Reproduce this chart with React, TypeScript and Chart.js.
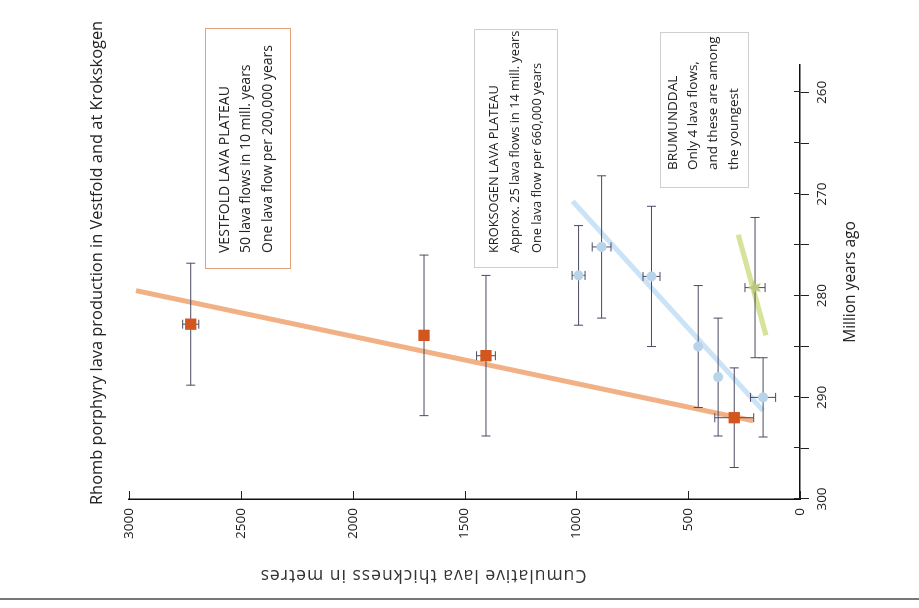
import React, { useEffect, useRef } from 'react';
import { Chart, registerables } from 'chart.js';

Chart.register(...registerables);

// ---------- data (age in million years ago, cumulative thickness in metres) ----------
const vestfoldAge = [282.8, 283.9, 285.9, 292.0];
const vestfoldThickness = [2724, 1681, 1404, 294];
const vestfoldAgeErr = [6.0, 7.9, 7.9, 4.9];
const vestfoldThickErr = [36, 0, 42, 87];

const krokskogenAge = [278.0, 275.2, 278.1, 285.0, 288.0, 290.0];
const krokskogenThickness = [990, 887, 664, 455, 366, 165];
const krokskogenAgeErr = [4.9, 7.0, 6.9, 6.0, 5.8, 3.9];
const krokskogenThickErr = [29, 42, 38, 0, 0, 56];

const brumunddalAge = [279.2];
const brumunddalThickness = [201];
const brumunddalAgeErr = [6.9];
const brumunddalThickErr = [45];

const vestfoldTrendAge = [279.5, 292.3];
const vestfoldTrendThickness = [2969, 210];
const krokskogenTrendAge = [270.7, 291.3];
const krokskogenTrendThickness = [1017, 165];
const brumunddalTrendAge = [274.0, 283.9];
const brumunddalTrendThickness = [276, 152];

const titleText = 'Rhomb porphyry lava production in Vestfold and at Krokskogen';
const xAxisTitle = 'Million years ago';
const yAxisTitle = 'Cumulative lava thickness in metres';
const vestfoldNote = ['VESTFOLD LAVA PLATEAU', '50 lava flows in 10 mill. years', 'One lava flow per 200,000 years'];
const krokskogenNote = ['KROKSOGEN LAVA PLATEAU', 'Approx. 25 lava flows in 14 mill. years', 'One lava flow per 660,000 years'];
const brumunddalNote = ['BRUMUNDDAL', 'Only 4 lava flows,', 'and these are among', 'the youngest'];

const FONT = "'Open Sans', 'Noto Sans', sans-serif";

const pts = (a: number[], b: number[]) => a.map((v, i) => ({ x: v, y: b[i] }));

const errorSets: Record<number, { age: number[]; thick: number[]; ageErr: number[]; thickErr: number[] }> = {
  0: { age: vestfoldAge, thick: vestfoldThickness, ageErr: vestfoldAgeErr, thickErr: vestfoldThickErr },
  1: { age: krokskogenAge, thick: krokskogenThickness, ageErr: krokskogenAgeErr, thickErr: krokskogenThickErr },
  2: { age: brumunddalAge, thick: brumunddalThickness, ageErr: brumunddalAgeErr, thickErr: brumunddalThickErr },
};

function makeStar(): HTMLCanvasElement {
  const c = document.createElement('canvas');
  c.width = 16;
  c.height = 16;
  const g = c.getContext('2d')!;
  g.fillStyle = '#bcc67c';
  g.beginPath();
  for (let i = 0; i < 10; i++) {
    const r = i % 2 === 0 ? 7.5 : 3.2;
    const a = -Math.PI / 2 + (i * Math.PI) / 5;
    const x = 8 + r * Math.cos(a);
    const y = 8 + r * Math.sin(a);
    if (i === 0) g.moveTo(x, y);
    else g.lineTo(x, y);
  }
  g.closePath();
  g.fill();
  return c;
}

const decor = {
  id: 'decor',
  beforeDatasetDraw(chart: any, args: any) {
    const eb = errorSets[args.index];
    if (!eb) return;
    const { ctx } = chart;
    const xs = chart.scales.x;
    const ys = chart.scales.y;
    ctx.save();
    ctx.strokeStyle = '#4a4a62';
    ctx.lineWidth = 1;
    const seg = (x1: number, y1: number, x2: number, y2: number) => {
      ctx.beginPath();
      ctx.moveTo(x1, y1);
      ctx.lineTo(x2, y2);
      ctx.stroke();
    };
    const cap = 4.5;
    eb.age.forEach((a, i) => {
      const px = xs.getPixelForValue(a);
      const py = ys.getPixelForValue(eb.thick[i]);
      const ae = eb.ageErr[i];
      if (ae) {
        const x1 = xs.getPixelForValue(a - ae);
        const x2 = xs.getPixelForValue(a + ae);
        seg(x1, py, x2, py);
        seg(x1, py - cap, x1, py + cap);
        seg(x2, py - cap, x2, py + cap);
      }
      const te = eb.thickErr[i];
      if (te) {
        const y1 = ys.getPixelForValue(eb.thick[i] - te);
        const y2 = ys.getPixelForValue(eb.thick[i] + te);
        seg(px, y1, px, y2);
        seg(px - cap, y1, px + cap, y1);
        seg(px - cap, y2, px + cap, y2);
      }
    });
    ctx.restore();
  },
  afterDraw(chart: any) {
    const { ctx, chartArea } = chart;
    const xs = chart.scales.x;
    const ys = chart.scales.y;
    ctx.save();
    // inner tick marks
    ctx.strokeStyle = '#222';
    ctx.lineWidth = 1;
    xs.ticks.forEach((t: any) => {
      const p = Math.round(xs.getPixelForValue(t.value)) + 0.5;
      ctx.beginPath();
      ctx.moveTo(p, chartArea.bottom);
      ctx.lineTo(p, chartArea.bottom - 6);
      ctx.stroke();
    });
    ys.ticks.forEach((t: any) => {
      const p = Math.round(ys.getPixelForValue(t.value)) + 0.5;
      ctx.beginPath();
      ctx.moveTo(chartArea.left, p);
      ctx.lineTo(chartArea.left + 8, p);
      ctx.stroke();
    });

    // page frame line
    ctx.strokeStyle = '#777';
    ctx.lineWidth = 2;
    ctx.beginPath();
    ctx.moveTo(9, 0);
    ctx.lineTo(9, 919);
    ctx.stroke();

    // title
    ctx.fillStyle = '#222';
    ctx.textBaseline = 'middle';
    ctx.textAlign = 'left';
    ctx.font = `16.4px ${FONT}`;
    ctx.fillText(titleText, 103, 97);

    // y axis title (rotated, reading bottom-to-top)
    ctx.save();
    ctx.translate(33, 423);
    ctx.rotate(-Math.PI / 2);
    ctx.textAlign = 'center';
    ctx.font = `17.5px ${FONT}`;
    (ctx as any).letterSpacing = '1px';
    ctx.fillStyle = '#333';
    ctx.fillText(yAxisTitle, 0, 0);
    (ctx as any).letterSpacing = '0px';
    ctx.restore();

    // annotation boxes
    const box = (x: number, y: number, w: number, h: number, color: string, lines: string[], tx: number, ty: number, gap: number, size: number) => {
      ctx.strokeStyle = color;
      ctx.lineWidth = 1;
      ctx.strokeRect(x + 0.5, y + 0.5, w, h);
      ctx.fillStyle = '#222';
      ctx.font = `${size}px ${FONT}`;
      ctx.textAlign = 'left';
      ctx.textBaseline = 'middle';
      lines.forEach((s, i) => ctx.fillText(s, tx, ty + i * gap));
    };
    box(339, 205, 240, 85, '#e3a27c', vestfoldNote, 355, 225, 21.5, 14);
    box(340, 474, 238, 83, '#cfcfcf', krokskogenNote, 355, 494, 21.5, 12.8);
    box(420, 660, 155, 88, '#cfcfcf', brumunddalNote, 438, 673, 20.3, 13.5);
    ctx.restore();
  },
};

export default function App() {
  const ref = useRef<HTMLCanvasElement>(null);
  useEffect(() => {
    const canvas = ref.current!;
    const star = makeStar();
    const chart = new Chart(canvas, {
      type: 'scatter',
      data: {
        datasets: [
          {
            label: 'Vestfold',
            data: pts(vestfoldAge, vestfoldThickness),
            pointStyle: 'rect',
            pointRadius: 8,
            backgroundColor: '#d4561f',
            borderColor: '#d4561f',
            borderWidth: 0,
          },
          {
            label: 'Krokskogen',
            data: pts(krokskogenAge, krokskogenThickness),
            pointStyle: 'circle',
            pointRadius: 5,
            backgroundColor: '#b9d4ea',
            borderColor: '#b9d4ea',
            borderWidth: 0,
          },
          {
            label: 'Brumunddal',
            data: pts(brumunddalAge, brumunddalThickness),
            pointStyle: star as any,
            pointRadius: 8,
            backgroundColor: '#bcc67c',
            borderWidth: 0,
          },
          {
            type: 'line',
            label: 'Vestfold trend',
            data: pts(vestfoldTrendAge, vestfoldTrendThickness),
            borderColor: 'rgba(240,168,120,0.9)',
            borderWidth: 5,
            pointRadius: 0,
            showLine: true,
          },
          {
            type: 'line',
            label: 'Krokskogen trend',
            data: pts(krokskogenTrendAge, krokskogenTrendThickness),
            borderColor: 'rgba(200,225,245,0.95)',
            borderWidth: 5,
            pointRadius: 0,
            showLine: true,
          },
          {
            type: 'line',
            label: 'Brumunddal trend',
            data: pts(brumunddalTrendAge, brumunddalTrendThickness),
            borderColor: 'rgba(212,226,150,0.95)',
            borderWidth: 5,
            pointRadius: 0,
            showLine: true,
          },
        ] as any,
      },
      options: {
        responsive: false,
        animation: false,
        devicePixelRatio: 1,
        layout: { padding: { left: 0, top: 129, right: 65, bottom: 0 } },
        plugins: { legend: { display: false }, tooltip: { enabled: false }, title: { display: false } },
        scales: {
          x: {
            type: 'linear',
            position: 'bottom',
            reverse: true,
            min: 257.3,
            max: 300,
            ticks: {
              stepSize: 5,
              includeBounds: false,
              autoSkip: false,
              maxRotation: 0,
              minRotation: 0,
              padding: 5,
              color: '#222',
              font: { family: FONT, size: 13.5 },
              callback: (v: any) => (Number(v) % 10 === 0 ? String(v) : ''),
            },
            grid: { drawOnChartArea: false, drawTicks: true, tickLength: 9, color: '#222', lineWidth: 1 },
            border: { display: true, color: '#111', width: 1.5 },
            title: {
              display: true,
              text: xAxisTitle,
              color: '#222',
              font: { family: FONT, size: 15.5 },
              padding: { top: 0, bottom: 59 },
            },
            afterFit: (s: any) => {
              s.height = 119;
            },
          },
          y: {
            type: 'linear',
            min: 0,
            max: 3000,
            ticks: {
              stepSize: 500,
              padding: 9,
              color: '#222',
              font: { family: FONT, size: 13.5 },
              callback: (v: any) => String(v),
            },
            grid: { drawOnChartArea: false, drawTicks: false },
            border: { display: true, color: '#111', width: 1.5 },
            afterFit: (s: any) => {
              s.width = 109;
            },
          },
        },
      } as any,
      plugins: [decor],
    });
    return () => chart.destroy();
  }, []);

  return (
    <div style={{ position: 'fixed', left: 0, top: 0, width: 919, height: 608, overflow: 'hidden', background: '#fff' }}>
      <div
        style={{
          position: 'absolute',
          left: 0,
          top: 0,
          width: 608,
          height: 919,
          transform: 'translate(0px, 608px) rotate(-90deg)',
          transformOrigin: '0 0',
        }}
      >
        <canvas ref={ref} width={608} height={919} style={{ display: 'block', width: 608, height: 919 }} />
      </div>
    </div>
  );
}
